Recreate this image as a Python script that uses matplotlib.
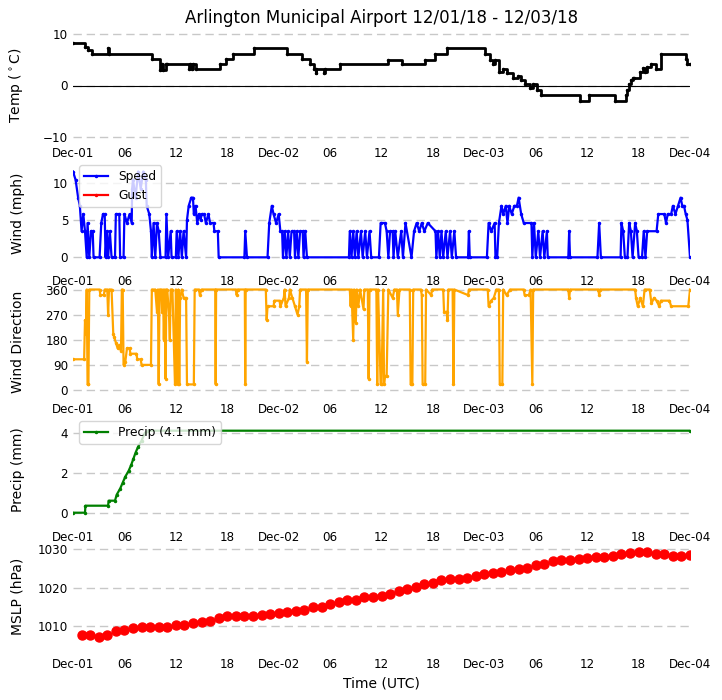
import matplotlib
matplotlib.use("Agg")
import matplotlib.pyplot as plt
import matplotlib.dates as mdates
import pandas as pd

BASE = pd.Timestamp("2018-12-01 00:00")

# temperature (deg C), step changes: hours since Dec-01 00Z
temp_hours = [0, 1.4, 1.7, 2.2, 4.1, 4.2, 9.2, 10.2, 10.4, 10.5, 10.9, 11.0,
              13.5, 13.6, 13.9, 14.0, 14.4, 17.2, 17.8, 18.7, 21.1, 25.0, 26.7,
              27.7, 28.1, 28.3, 28.4, 29.3, 29.4, 31.2, 36.8, 38.4, 41.1, 42.3,
              43.6, 48.1, 48.7, 49.0, 49.3, 49.7, 50.2, 50.6, 51.4, 51.9, 52.3,
              52.8, 53.3, 53.7, 54.2, 54.6, 59.2, 60.2, 63.3, 64.5, 64.7, 64.9,
              65.1, 65.3, 65.5, 66.2, 66.5, 66.7, 67.0, 67.5, 68.0, 68.6, 71.5,
              71.7, 72.0]
temp_vals = [8.1, 7.4, 6.9, 6.1, 7.2, 6.1, 5.2, 3.0, 4.2, 3.0, 4.2, 4.2,
             3.1, 4.2, 3.1, 4.2, 3.1, 4.2, 5.2, 6.1, 7.2, 6.1, 5.2,
             4.2, 3.1, 2.5, 3.1, 2.5, 3.1, 4.2, 5.0, 4.2, 5.0, 6.1,
             7.2, 6.1, 5.0, 4.2, 5.0, 2.6, 3.1, 2.5, 1.4, 1.9, 1.0,
             0.3, -0.4, 0.2, -0.8, -1.9, -2.9, -1.9, -2.9, -1.9, -0.8, 0.3,
             1.0, 1.4, 1.4, 2.6, 3.3, 2.6, 3.5, 4.2, 3.1, 6.1, 5.2,
             4.2, 4.2]

# wind speed (mph)
wind_hours = [0.0, 0.3, 0.6, 0.8, 1.0, 1.2, 1.4, 1.6, 1.7, 1.9, 2.1, 2.3, 2.4,
              3.1, 3.3, 3.5, 3.7, 3.8, 3.95, 4.1, 4.3, 4.5, 4.9, 5.0, 5.4, 5.5,
              5.9, 6.0, 6.3, 6.6, 6.85, 6.9, 7.0, 7.3, 7.6, 7.9, 8.2, 8.5, 8.6,
              8.9, 9.1, 9.2, 9.4, 9.6, 9.8, 10.0, 10.2, 10.8, 10.9, 11.1, 11.4,
              11.5, 12.0, 12.1, 12.3, 12.5, 12.7, 12.9, 13.2, 13.3, 13.5, 13.8,
              14.0, 14.1, 14.3, 14.5, 14.7, 14.9, 15.0, 15.3, 15.5, 15.8, 16.0,
              16.4, 16.5, 16.9, 17.0, 20.0, 20.1, 20.3, 22.7, 22.9, 23.2, 23.4,
              23.7, 24.0, 24.2, 24.4, 24.5, 24.7, 24.9, 25.1, 25.3, 25.5, 25.8,
              25.9, 26.1, 26.3, 26.5, 26.8, 26.9, 27.1, 27.3, 32.2, 32.3, 32.5,
              32.7, 32.9, 33.1, 33.3, 33.6, 33.8, 34.1, 34.3, 34.6, 34.8, 35.7,
              35.9, 36.4, 36.6, 36.8, 37.0, 37.3, 37.4, 37.6, 37.9, 38.3, 38.5,
              38.8, 39.5, 39.8, 40.1, 40.4, 40.7, 41.0, 41.4, 42.3, 42.4, 42.6,
              42.8, 43.0, 43.2, 43.5, 43.7, 44.0, 44.2, 44.5, 44.7, 46.1, 46.2,
              46.3, 48.3, 48.5, 48.8, 49.2, 49.3, 49.5, 49.7, 50.0, 50.2, 50.5,
              50.7, 50.9, 51.2, 51.5, 51.8, 52.0, 52.3, 52.6, 53.5, 53.6, 53.8,
              54.0, 54.3, 54.5, 54.8, 55.0, 55.3, 55.4, 57.8, 57.9, 58.0, 61.2,
              61.4, 61.6, 63.9, 64.0, 64.2, 64.4, 64.7, 64.9, 65.1, 65.3, 65.6,
              65.8, 66.0, 66.4, 66.6, 66.8, 67.0, 68.1, 68.3, 69.0, 69.2, 69.4,
              69.8, 70.0, 70.3, 70.6, 70.9, 71.1, 71.3, 71.5, 71.7, 72.0]
wind_speed = [11.5, 10.4, 8.0, 6.9, 3.5, 5.8, 3.5, 0, 4.6, 0, 3.5, 3.5, 0,
              0, 4.6, 5.8, 5.8, 0, 3.5, 0, 3.5, 0, 0, 5.8, 5.8, 0,
              0, 5.8, 4.6, 5.8, 4.6, 9.2, 10.4, 8.0, 11.5, 9.2, 11.5, 10.4, 6.9,
              5.8, 3.5, 0, 4.6, 0, 4.6, 3.5, 0, 0, 5.8, 0, 3.5,
              0, 0, 3.5, 0, 3.5, 0, 3.5, 0, 5.0, 6.9, 8.0,
              8.0, 5.8, 6.9, 4.6, 5.8, 5.0, 5.8, 5.8, 4.6, 5.8, 4.6,
              4.6, 3.5, 3.5, 0, 0, 3.5, 0, 0, 4.6, 6.9, 5.8,
              4.6, 5.8, 3.5, 3.5, 0, 3.5, 0, 3.5, 0, 3.5, 3.5,
              0, 3.5, 0, 3.5, 3.5, 0, 3.5, 0, 0, 3.5, 0,
              3.5, 0, 3.5, 0, 3.5, 0, 3.5, 0, 3.5, 0, 0,
              4.6, 4.6, 3.5, 0, 3.5, 3.5, 0, 3.5, 0, 3.5, 0,
              4.6, 0, 3.5, 4.6, 3.5, 4.6, 3.5, 4.6, 3.5, 0, 3.5,
              0, 3.5, 0, 3.5, 0, 3.5, 0, 3.5, 0, 0, 3.5,
              0, 0, 4.6, 3.5, 4.6, 0, 0, 4.6, 6.9, 5.8, 6.9,
              4.6, 6.9, 5.8, 6.9, 6.9, 8.0, 5.8, 4.6, 4.6, 0, 4.6,
              0, 3.5, 0, 3.5, 0, 3.5, 0, 0, 3.5, 0, 0,
              4.6, 0, 0, 4.6, 3.5, 0, 0, 4.6, 3.5, 0, 4.6,
              3.5, 0, 0, 3.5, 0, 3.5, 3.5, 5.8, 5.8, 4.6, 5.8,
              5.8, 6.9, 5.8, 6.9, 8.0, 6.9, 6.9, 5.8, 5.0, 0]

# wind direction (deg)
dir_hours = [0.0, 1.3, 1.4, 1.5, 1.6, 1.7, 1.8, 1.9, 3.1, 3.2, 3.6, 3.7, 4.0,
             4.1, 4.2, 4.5, 4.7, 4.8, 5.0, 5.2, 5.4, 5.6, 5.7, 5.8, 5.9, 6.1,
             6.3, 6.6, 6.7, 7.4, 7.5, 7.9, 8.0, 9.1, 9.2, 9.6, 9.8, 9.9, 10.0,
             10.1, 10.3, 10.4, 10.5, 10.6, 10.7, 10.8, 10.9, 11.0, 11.2, 11.3,
             11.4, 11.6, 11.9, 12.0, 12.1, 12.2, 12.3, 12.4, 12.5, 12.7, 12.9,
             13.2, 13.3, 14.1, 14.2, 14.7, 14.8, 15.0, 16.6, 16.65, 16.7, 19.0,
             19.1, 19.2, 20.05, 20.1, 20.15, 22.5, 22.6, 22.7, 23.4, 23.5, 24.1,
             24.2, 24.6, 24.7, 24.8, 25.2, 25.3, 25.6, 25.9, 26.2, 26.4, 26.5,
             27.2, 27.3, 27.4, 32.3, 32.4, 32.5, 32.7, 32.8, 33.0, 33.1, 33.3,
             33.5, 33.9, 34.0, 34.4, 34.5, 34.6, 35.4, 35.5, 35.6, 35.9, 36.0,
             36.2, 36.3, 36.4, 36.6, 36.8, 37.3, 37.5, 37.8, 37.9, 38.1, 39.3,
             39.4, 39.6, 39.7, 40.6, 40.7, 40.8, 41.1, 41.2, 41.8, 41.9, 43.2,
             43.3, 43.6, 43.7, 43.8, 44.3, 44.4, 44.5, 46.1, 46.2, 48.4, 48.5,
             48.8, 49.1, 49.4, 49.7, 49.8, 50.1, 50.2, 50.6, 51.0, 52.6, 52.7,
             53.2, 53.4, 53.6, 53.7, 57.8, 57.9, 58.0, 61.3, 61.4, 61.5, 65.6,
             65.7, 65.9, 66.2, 66.5, 66.7, 67.3, 67.5, 67.8, 68.1, 68.4, 68.6,
             69.6, 69.8, 71.8, 72.0]
dir_deg = [110, 110, 250, 200, 360, 20, 20, 360, 360, 340, 340, 360, 360,
           270, 360, 360, 200, 190, 170, 150, 160, 140, 360, 360, 90, 100,
           150, 150, 130, 130, 110, 110, 90, 90, 360, 360, 280, 360, 20,
           360, 360, 280, 360, 180, 360, 40, 360, 360, 270, 180,
           360, 360, 20, 360, 300, 20, 360, 20, 330, 360, 330,
           330, 20, 20, 360, 360, 340, 360, 360, 20, 360, 360,
           340, 360, 360, 20, 360, 360, 250, 300, 300, 320, 320,
           300, 330, 360, 300, 330, 360, 330, 300, 270, 300, 360,
           360, 100, 360, 360, 300, 360, 180, 360, 240, 360, 300,
           360, 290, 360, 360, 40, 360, 360, 20, 360, 20, 20,
           360, 20, 50, 50, 360, 330, 360, 360, 270, 360, 360,
           20, 20, 360, 360, 340, 20, 20, 360, 340, 360, 360,
           280, 280, 250, 360, 360, 20, 360, 340, 360, 360, 300,
           320, 330, 360, 360, 20, 20, 360, 340, 360, 360, 340,
           340, 360, 20, 360, 360, 330, 360, 360, 340, 360, 360,
           330, 300, 330, 300, 360, 360, 310, 330, 320, 300, 320,
           320, 300, 300, 360]

# accumulated precipitation (mm)
precip_hours = [0, 1.4, 1.45, 4.1, 4.15, 4.9, 5.1, 5.5, 5.8, 6.1, 6.5, 6.8,
                7.05, 7.3, 7.6, 8.0, 8.4, 8.8, 72.0]
precip_mm = [0, 0, 0.35, 0.35, 0.6, 0.6, 0.9, 1.2, 1.5, 1.8, 2.1, 2.4,
             2.7, 3.0, 3.3, 3.6, 4.0, 4.1, 4.1]

# hourly sea level pressure (hPa), hours 1..72
mslp_hours = list(range(1, 73))
mslp_hpa = [1007.6, 1007.5, 1007.1, 1007.6, 1008.5, 1009.0, 1009.4, 1009.6,
            1009.6, 1009.6, 1009.8, 1010.1, 1010.3, 1010.6, 1010.9, 1011.2,
            1012.0, 1012.5, 1012.5, 1012.5, 1012.5, 1012.7, 1013.0, 1013.4,
            1013.7, 1013.9, 1014.2, 1014.8, 1015.0, 1015.6, 1016.3, 1016.7,
            1016.8, 1017.5, 1017.5, 1017.7, 1018.2, 1019.0, 1019.6, 1020.1,
            1020.9, 1021.3, 1021.9, 1022.3, 1022.2, 1022.5, 1022.9, 1023.5,
            1023.8, 1024.1, 1024.6, 1024.8, 1025.2, 1025.9, 1026.2, 1027.0,
            1027.1, 1027.3, 1027.5, 1027.8, 1028.0, 1028.0, 1028.2, 1028.8,
            1029.0, 1029.4, 1029.2, 1028.8, 1028.7, 1028.2, 1028.2, 1028.5]


def to_time(hours):
    return BASE + pd.to_timedelta(hours, unit="h")


def date_fmt(x, pos=None):
    d = mdates.num2date(x)
    if d.hour == 0:
        return d.strftime("%b-%d")
    return d.strftime("%H")


TICK_FS = 8.6
LABEL_FS = 10
GRID = dict(color="#c8c8c8", linestyle=(0, (6, 3.5)), linewidth=1.0)

fig = plt.figure(figsize=(7.22, 7.0), dpi=100)
W, H = 722.0, 700.0
left, right = 73, 690
tops = [31, 159, 287, 415, 542]
height = 109
axes = []
for t in tops:
    ax = fig.add_axes([left / W, 1 - (t + height) / H, (right - left) / W, height / H])
    axes.append(ax)

ax1, ax2, ax3, ax4, ax5 = axes

# Temperature
ax1.plot(to_time(temp_hours), temp_vals, color="black", lw=2.0,
         drawstyle="steps-post", marker=".", ms=3)
ax1.axhline(0, color="black", lw=0.8)
ax1.set_ylim(-10.5, 10.5)
ax1.set_yticks([-10, 0, 10])
ax1.set_ylabel(r"Temp ($^\circ$C)", fontsize=LABEL_FS)
ax1.set_title("Arlington Municipal Airport 12/01/18 - 12/03/18", fontsize=12, pad=6)

# Wind
ax2.plot(to_time(wind_hours), wind_speed, color="blue", lw=1.6, marker=".", ms=3,
         label="Speed")
ax2.plot([], [], color="red", lw=1.6, marker=".", ms=3, label="Gust")
ax2.set_ylim(-1.43, 13.18)
ax2.set_yticks([0, 5, 10])
ax2.set_ylabel("Wind (mph)", fontsize=LABEL_FS)
ax2.legend(loc="upper left", fontsize=8.8)

# Direction
ax3.plot(to_time(dir_hours), dir_deg, color="orange", lw=1.6, marker=".", ms=3)
ax3.set_ylim(-21.5, 369)
ax3.set_yticks([0, 90, 180, 270, 360])
ax3.set_ylabel("Wind Direction", fontsize=LABEL_FS)

# Precip
ax4.plot(to_time(precip_hours), precip_mm, color="green", lw=1.6, marker=".", ms=3,
         label="Precip (4.1 mm)")
ax4.set_ylim(-0.565, 4.885)
ax4.set_yticks([0, 2, 4])
ax4.set_ylabel("Precip (mm)", fontsize=LABEL_FS)
ax4.legend(loc="upper left", fontsize=8.8)

# Pressure
ax5.plot(to_time(mslp_hours), mslp_hpa, "o", color="red", ms=6.5)
ax5.set_ylim(1003.4, 1031.9)
ax5.set_yticks([1010, 1020, 1030])
ax5.set_ylabel("MSLP (hPa)", fontsize=LABEL_FS)
ax5.set_xlabel("Time (UTC)", fontsize=LABEL_FS)

for ax in axes:
    ax.set_xlim(BASE, BASE + pd.Timedelta(hours=72))
    ax.xaxis.set_major_locator(mdates.HourLocator(byhour=[0, 6, 12, 18]))
    ax.xaxis.set_major_formatter(plt.FuncFormatter(date_fmt))
    ax.tick_params(axis="both", length=0, labelsize=TICK_FS)
    ax.tick_params(axis="x", pad=5)
    ax.grid(True, axis="y", **GRID)
    ax.set_axisbelow(True)
    for s in ax.spines.values():
        s.set_visible(False)
    ax.yaxis.set_label_coords(-0.078, 0.5)

fig.savefig("out.png", dpi=100)
